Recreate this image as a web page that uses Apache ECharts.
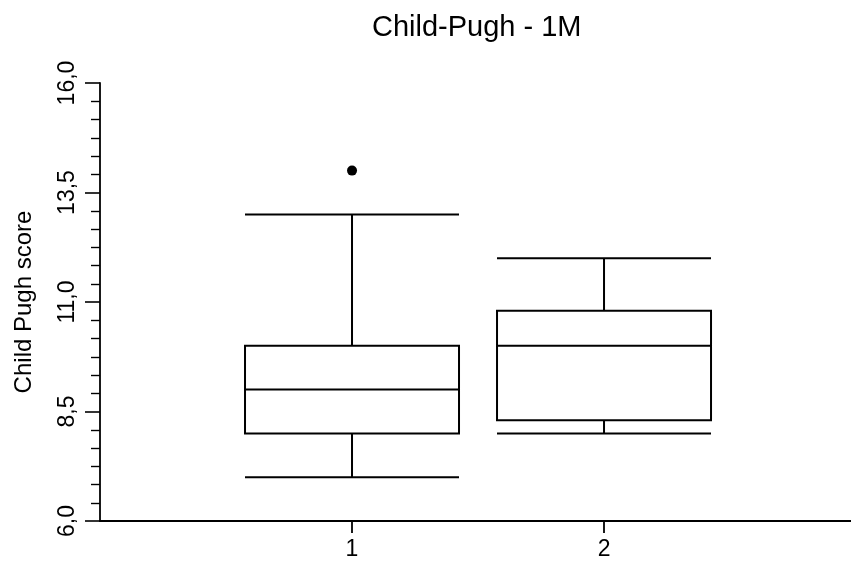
<!DOCTYPE html>
<html>
<head>
<meta charset="utf-8">
<script src="https://cdn.jsdelivr.net/npm/echarts@6/dist/echarts.min.js"></script>
<style>
html,body{margin:0;padding:0;background:#fff;}
#chart{width:851px;height:563px;}
</style>
</head>
<body>
<div id="chart"></div>
<script>
// Data
var groups = [1, 2];
var groupLabels = ['1', '2'];
// [min, Q1, median, Q3, max]
var box1 = [7, 8, 9, 10, 13];
var box2 = [8, 8.3, 10, 10.8, 12];
var outliers = [[1, 14]];
var yTicks = [6, 8.5, 11, 13.5, 16];

var FONT = 'Liberation Sans, Arial, sans-serif';
var chart = echarts.init(document.getElementById('chart'));
var boxData = [[groups[0]].concat(box1), [groups[1]].concat(box2)];

chart.setOption({
  animation: false,
  backgroundColor: '#fff',
  title: {
    text: 'Child-Pugh - 1M',
    left: 367,
    top: 8,
    textStyle: { fontFamily: FONT, fontSize: 29, fontWeight: 'normal', color: '#000' }
  },
  grid: { left: 100, right: 0, top: 83, bottom: 42, containLabel: false },
  xAxis: {
    type: 'value',
    min: 0,
    max: 2.98,
    interval: 1,
    splitLine: { show: false },
    axisLine: { show: true, lineStyle: { color: '#000', width: 1.8 } },
    axisTick: { show: true, length: 12, customValues: groups, lineStyle: { color: '#000', width: 1.8 } },
    axisLabel: {
      customValues: groups,
      formatter: function (v) { var i = groups.indexOf(v); return i >= 0 ? groupLabels[i] : ''; },
      margin: 17,
      color: '#000', fontFamily: FONT, fontSize: 23
    }
  },
  yAxis: {
    type: 'value',
    min: yTicks[0],
    max: yTicks[yTicks.length - 1],
    interval: 2.5,
    name: 'Child Pugh score',
    nameLocation: 'middle',
    nameRotate: 90,
    nameGap: 64,
    nameTextStyle: { fontFamily: FONT, fontSize: 24, color: '#000' },
    splitLine: { show: false },
    axisLine: { show: true, lineStyle: { color: '#000', width: 1.8 } },
    axisTick: { show: true, length: 15, lineStyle: { color: '#000', width: 1.6 } },
    minorTick: { show: true, splitNumber: 6, length: 9, lineStyle: { color: '#000', width: 1.4 } },
    axisLabel: {
      rotate: 90,
      margin: 21,
      color: '#000', fontFamily: FONT, fontSize: 23,
      formatter: function (v) { return v.toFixed(1).replace('.', ','); }
    }
  },
  series: [
    {
      type: 'boxplot',
      data: boxData,
      boxWidth: [214, 214],
      itemStyle: { color: 'rgba(0,0,0,0)', borderColor: '#000', borderWidth: 2 },
      emphasis: { disabled: true }
    },
    {
      type: 'scatter',
      data: outliers,
      symbol: 'circle',
      symbolSize: 10,
      itemStyle: { color: '#000', opacity: 1 },
      emphasis: { disabled: true }
    }
  ]
});
</script>
</body>
</html>
